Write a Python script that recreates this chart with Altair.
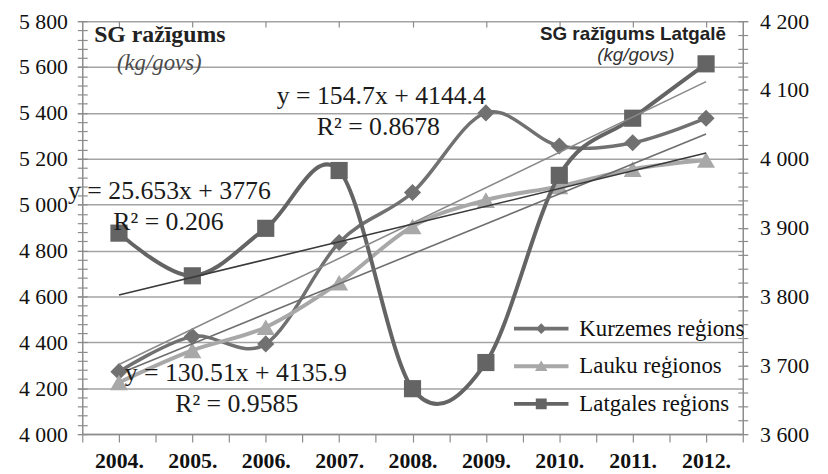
import json
import altair as alt
import pandas as pd

# ---------------- data ----------------
years = ["2004.", "2005.", "2006.", "2007.", "2008.", "2009.", "2010.", "2011.", "2012."]
kurzemes = [4272, 4425, 4393, 4835, 5053, 5400, 5256, 5270, 5377]
lauku = [4225, 4365, 4466, 4660, 4905, 5020, 5080, 5155, 5195]
latgales = [3892, 3830, 3899, 3983, 3666, 3704, 3976, 4059, 4138]
series = ["Kurzemes reģions", "Lauku reģionos", "Latgales reģions"]

left_ticks = list(range(4000, 5801, 200))
left_minor = list(range(4000, 5801, 40))
right_ticks = list(range(3600, 4201, 100))
right_minor = list(range(3600, 4201, 20))

eq_kurz = ["y = 154.7x + 4144.4", "R² = 0.8678"]
eq_latg = ["y = 25.653x + 3776", "R² = 0.206"]
eq_lauku = ["y = 130.51x + 4135.9", "R² = 0.9585"]
title_left = ["SG ražīgums", "(kg/govs)"]
title_right = ["SG ražīgums Latgalē", "(kg/govs)"]

idx = list(range(1, len(years) + 1))
df = pd.DataFrame({"idx": idx, "year": years, "kurz": kurzemes,
                   "lauku": lauku, "latg": latgales})
long_df = pd.DataFrame({
    "idx": idx * 3,
    "series": [s for s in series for _ in idx],
    "v": kurzemes + lauku + latgales,
})

# ---------------- style ----------------
W, H = 667, 417
LEFT_DOM = [4000, 5800]
RIGHT_DOM = [3600, 4200]
SERIF = "Liberation Serif"
SANS = "Liberation Sans"
AXC = "#8c8c8c"

C_KURZ = "#717171"
C_LAUKU = "#a8a8a8"
C_LATG = "#646464"
T_KURZ = "#8a8a8a"
T_LAUKU = "#6e6e6e"
T_LATG = "#3a3a3a"

label_expr_x = f"datum.value % 1 == 0 ? {json.dumps(years, ensure_ascii=False)}[datum.value - 1] : ''"
x_axis_main = alt.Axis(values=[i / 2 for i in range(1, 20)], labelExpr=label_expr_x, title=None,
                       grid=False, tickSize=8, tickColor=AXC, tickWidth=1.2, domainColor=AXC,
                       domainWidth=1.5, labelFont=SERIF, labelFontSize=22, labelColor="#111",
                       labelPadding=9, labelOverlap=False, labelFlush=False, labelBound=False,
                       labelFontWeight="bold")
x_axis_inner = alt.Axis(values=idx, labels=False, domain=False, grid=False, tickSize=6,
                        offset=-6, tickColor=AXC, tickWidth=1.2, title=None)
X_SCALE = alt.Scale(domain=[0.5, 9.5], nice=False, zero=False)


def xenc(axis=None):
    return alt.X("idx:Q", scale=X_SCALE, axis=axis)


sp_expr = "replace(format(datum.value, ','), ',', ' ')"


def yscale(dom):
    return alt.Scale(domain=dom, nice=False, zero=False)


left_axis = alt.Axis(orient="left", values=left_ticks, grid=True, gridColor="#a3a3a3",
                     gridWidth=1.5, tickSize=5, tickColor=AXC, tickWidth=1.2, domainColor=AXC,
                     domainWidth=1.5, labelFont=SERIF, labelFontSize=22, labelColor="#111",
                     labelPadding=10, title=None, labelExpr=sp_expr)
left_minor_axis = alt.Axis(orient="left", values=left_minor, labels=False, domain=False,
                           grid=False, tickSize=10, offset=-5, tickColor=AXC, tickWidth=1.2,
                           title=None)
right_axis = alt.Axis(orient="right", values=right_ticks, grid=False, tickSize=5,
                      tickColor=AXC, tickWidth=1.2, domainColor=AXC, domainWidth=1.5,
                      labelFont=SERIF, labelFontSize=22, labelColor="#111", labelPadding=12,
                      title=None, labelExpr=sp_expr)
right_minor_axis = alt.Axis(orient="right", values=right_minor, labels=False, domain=False,
                            grid=False, tickSize=10, offset=-5, tickColor=AXC, tickWidth=1.2,
                            title=None)

base = alt.Chart(df)

# axes / grid carriers
left_grid = base.mark_point(opacity=0).encode(
    x=xenc(x_axis_main), y=alt.Y("kurz:Q", scale=yscale(LEFT_DOM), axis=left_axis))
left_minor_l = base.mark_point(opacity=0).encode(
    x=xenc(x_axis_inner), y=alt.Y("kurz:Q", scale=yscale(LEFT_DOM), axis=left_minor_axis))
right_main = base.mark_point(opacity=0).encode(
    x=xenc(), y=alt.Y("latg:Q", scale=yscale(RIGHT_DOM), axis=right_axis))
right_minor_l = base.mark_point(opacity=0).encode(
    x=xenc(), y=alt.Y("latg:Q", scale=yscale(RIGHT_DOM), axis=right_minor_axis))


def series_line(field, color, shape, msize, width, dom):
    return base.mark_line(
        color=color, strokeWidth=width, interpolate="cardinal",
        point=alt.OverlayMarkDef(shape=shape, filled=True, size=msize, color=color, opacity=1),
    ).encode(x=xenc(), y=alt.Y(f"{field}:Q", scale=yscale(dom), axis=None))


def trend_line(field, color, dom):
    return base.transform_regression("idx", field).mark_line(
        color=color, strokeWidth=1.6).encode(
        x=xenc(), y=alt.Y(f"{field}:Q", scale=yscale(dom), axis=None))


kurz_l = series_line("kurz", C_KURZ, "diamond", 300, 3.5, LEFT_DOM)
lauku_l = series_line("lauku", C_LAUKU, "triangle-up", 330, 4, LEFT_DOM)
latg_l = series_line("latg", C_LATG, "square", 300, 4, RIGHT_DOM)
kurz_t = trend_line("kurz", T_KURZ, LEFT_DOM)
lauku_t = trend_line("lauku", T_LAUKU, LEFT_DOM)
latg_t = trend_line("latg", T_LATG, RIGHT_DOM)

# legend (line + marker symbols)
sym_paths = [
    "M-5,-0.33H5V0.33H-5Z M0,-1L1,0L0,1L-1,0Z",
    "M-5,-0.36H5V0.36H-5Z M0,-1.05L1.15,0.85H-1.15Z",
    "M-5,-0.36H5V0.36H-5Z M-1,-1H1V1H-1Z",
]
leg = alt.Legend(title=None, orient="none", legendX=452, legendY=299, labelFont=SERIF,
                 labelFontSize=23, labelColor="#111", symbolSize=121, symbolOpacity=1,
                 symbolStrokeWidth=0, labelOffset=27, rowPadding=14, padding=0,
                 labelLimit=400)
legend_l = alt.Chart(long_df).mark_point(filled=True, opacity=0, size=121).encode(
    x=xenc(),
    y=alt.Y("v:Q", scale=yscale([3600, 5800]), axis=None),
    color=alt.Color("series:N", scale=alt.Scale(domain=series, range=[C_KURZ, C_LAUKU, C_LATG]),
                    sort=series, legend=leg),
    shape=alt.Shape("series:N", scale=alt.Scale(domain=series, range=sym_paths),
                    sort=series, legend=leg),
)


def txt(s, x, y, size, font=SERIF, align="center", weight="normal", style="normal",
        color="#1a1a1a"):
    return alt.Chart(pd.DataFrame({"t": [s]})).mark_text(
        font=font, fontSize=size, align=align, baseline="middle", fontWeight=weight,
        fontStyle=style, color=color,
    ).encode(text="t:N", x=alt.value(x), y=alt.value(y))


texts = [
    txt(title_left[0], 12, 14, 24, align="left", weight="bold", color="#222"),
    txt(title_left[1], 35, 42, 23, align="left", style="italic", color="#4a4a4a"),
    txt(title_right[0], 650, 13, 19, font=SANS, align="right", weight="bold", color="#222"),
    txt(title_right[1], 559, 34, 19, font=SANS, style="italic", color="#333"),
    txt(eq_kurz[0], 302, 76, 26),
    txt(eq_kurz[1], 299, 107, 26),
    txt(eq_latg[0], 88, 172, 26),
    txt(eq_latg[1], 87, 203, 26),
    txt(eq_lauku[0], 155, 355, 26),
    txt(eq_lauku[1], 156, 387, 26),
]

chart = alt.layer(
    left_grid, left_minor_l, right_main, right_minor_l,
    kurz_l, lauku_l, latg_l,
    kurz_t, lauku_t, latg_t,
    legend_l,
    *texts,
).resolve_scale(x="independent", y="independent").properties(
    width=W, height=H,
    autosize=alt.AutoSizeParams(type="none"),
    padding={"left": 75, "top": 11, "right": 78, "bottom": 38},
    background="white",
).configure_view(stroke=None)

chart.save("out.html", embed_options={"renderer": "svg", "actions": False})
